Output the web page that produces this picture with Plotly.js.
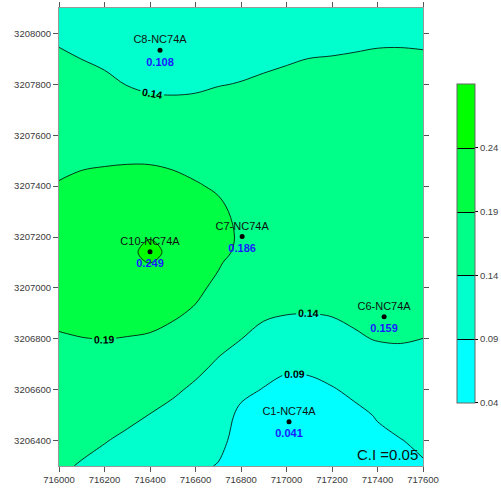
<!DOCTYPE html>
<html>
<head>
<meta charset="utf-8">
<script src="https://cdn.plot.ly/plotly-3.0.1.min.js"></script>
<style>html,body{margin:0;padding:0;background:#fff;}#chart{width:501px;height:488px;}</style>
</head>
<body>
<div id="chart"></div>
<script>
// Grid coordinates (easting / northing)
var gridX = [716000,716100,716200,716300,716400,716500,716600,716700,716800,716900,717000,717100,717200,717300,717400,717500,717600];
var gridY = [3206300,3206400,3206500,3206600,3206700,3206800,3206900,3207000,3207100,3207140,3207200,3207300,3207400,3207500,3207600,3207700,3207800,3207900,3208000,3208100];
// Concentration values (rows = gridY, cols = gridX)
var gridZ = [
[0.145,0.1375,0.1294,0.12,0.111,0.101,0.0975,0.088,0.07,0.066,0.058,0.062,0.068,0.074,0.078,0.084,0.087],
[0.1535,0.1479,0.1416,0.1336,0.1251,0.1156,0.1097,0.1005,0.075,0.065,0.048,0.055,0.064,0.075,0.083,0.0888,0.0965],
[0.162,0.1583,0.1538,0.1475,0.1392,0.1301,0.122,0.1123,0.08,0.07,0.043,0.055,0.07,0.082,0.0924,0.102,0.1074],
[0.1705,0.1686,0.166,0.1613,0.1547,0.1454,0.1342,0.1242,0.1005,0.088,0.074,0.0782,0.0874,0.0974,0.1087,0.1156,0.1183],
[0.179,0.179,0.1783,0.1751,0.1702,0.1621,0.1495,0.1361,0.1206,0.1082,0.1002,0.0998,0.1059,0.1158,0.125,0.129,0.1291],
[0.1876,0.1894,0.1905,0.1889,0.1857,0.1788,0.1674,0.1505,0.1405,0.1287,0.121,0.1197,0.1245,0.1365,0.1416,0.1425,0.1399],
[0.196,0.199,0.2009,0.2016,0.2035,0.1951,0.1853,0.1662,0.1518,0.145,0.1412,0.1396,0.1425,0.1455,0.158,0.1485,0.1465],
[0.204,0.2086,0.2114,0.2143,0.2222,0.2105,0.198,0.1818,0.1632,0.156,0.152,0.15,0.1505,0.1525,0.159,0.1535,0.1515],
[0.2127,0.2182,0.2218,0.2269,0.241,0.2258,0.2087,0.194,0.1745,0.167,0.162,0.159,0.1575,0.158,0.16,0.1565,0.155],
[0.214,0.222,0.226,0.232,0.249,0.232,0.213,0.199,0.183,0.1714,0.166,0.162,0.16,0.16,0.1605,0.1575,0.156],
[0.209,0.2161,0.2197,0.2248,0.2383,0.2244,0.2083,0.2,0.186,0.178,0.17,0.166,0.163,0.162,0.161,0.1585,0.157],
[0.2005,0.2063,0.2091,0.2127,0.2214,0.2116,0.2005,0.1965,0.182,0.1721,0.172,0.168,0.1645,0.1625,0.1608,0.159,0.1575],
[0.192,0.1965,0.1986,0.2007,0.2044,0.1989,0.1927,0.1861,0.171,0.1662,0.1685,0.1665,0.1635,0.1615,0.1598,0.1585,0.157],
[0.1829,0.186,0.1874,0.1882,0.1873,0.1848,0.18,0.1743,0.1635,0.1603,0.1635,0.1625,0.1605,0.159,0.1578,0.157,0.1558],
[0.1733,0.1744,0.1738,0.1717,0.1695,0.1674,0.1649,0.1625,0.156,0.1544,0.158,0.158,0.1565,0.1555,0.1548,0.1545,0.1535],
[0.1637,0.1627,0.1602,0.1553,0.1516,0.1499,0.1498,0.1506,0.1485,0.1485,0.1518,0.153,0.152,0.1513,0.151,0.151,0.1502],
[0.154,0.1511,0.1465,0.1391,0.1338,0.1327,0.1348,0.139,0.141,0.1426,0.1456,0.1475,0.147,0.1465,0.1465,0.147,0.1465],
[0.1444,0.1398,0.1348,0.1264,0.116,0.1157,0.12,0.130,0.1325,0.1367,0.138,0.1402,0.1408,0.1414,0.1418,0.142,0.1418],
[0.1347,0.1298,0.125,0.118,0.108,0.108,0.1125,0.121,0.124,0.1266,0.13,0.1325,0.134,0.136,0.1375,0.1375,0.1368],
[0.125,0.12,0.115,0.112,0.102,0.103,0.108,0.112,0.115,0.118,0.122,0.125,0.128,0.13,0.132,0.133,0.132]
];

// Sampling stations
var stationNames = ['C8-NC74A','C10-NC74A','C7-NC74A','C6-NC74A','C1-NC74A'];
var stationX = [716444,716400,716805,717429,717011];
var stationY = [3207934,3207142,3207202,3206887,3206474];
var stationValues = [0.108,0.249,0.186,0.159,0.041];

// Contour levels and colour bands
var levelStart = 0.09, levelEnd = 0.24, levelStep = 0.05;
var bandColors = ['#00FFFF','#00FFCC','#00FF88','#00FF44','#00FF00'];
var barTicks = [0.04,0.09,0.14,0.19,0.24];
var barMin = 0.04, barMax = 0.29;

var FONT = 'Arial, "Liberation Sans", sans-serif';

var fillScale = bandColors.map(function(c,i){ return [i/(bandColors.length-1), c]; });
var stepScale = [];
bandColors.forEach(function(c,i){
  stepScale.push([i/bandColors.length, c]);
  stepScale.push([(i+1)/bandColors.length, c]);
});

var contourTrace = {
  type: 'contour',
  x: gridX, y: gridY, z: gridZ,
  colorscale: fillScale,
  showscale: false,
  autocontour: false,
  contours: {
    start: levelStart, end: levelEnd, size: levelStep,
    coloring: 'fill', showlines: true, showlabels: true,
    labelformat: '.2f',
    labelfont: {family: FONT, size: 10.5, color: '#000', weight: 'bold'}
  },
  line: {color: '#000', width: 0.8, smoothing: 1},
  hoverinfo: 'skip'
};

// trace used only to draw the colour bar (placed outside the visible ranges)
var barTrace = {
  type: 'contour',
  x: [0, 1], y: [0, 1],
  z: [[barMin, barMax],[barMin, barMax]],
  zmin: barMin, zmax: barMax, zauto: false,
  colorscale: stepScale,
  autocontour: false,
  contours: {start: levelStart, end: levelEnd, size: levelStep, coloring: 'heatmap', showlines: true},
  line: {color: '#000', width: 1},
  hoverinfo: 'skip',
  colorbar: {
    x: 1.0934, xanchor: 'left', xpad: 0, ypad: 0,
    y: 0.486, yanchor: 'middle',
    len: 319, lenmode: 'pixels',
    thickness: 18, thicknessmode: 'pixels',
    outlinewidth: 1, outlinecolor: '#666',
    borderwidth: 0,
    tickmode: 'array', tickvals: barTicks,
    ticktext: barTicks.map(function(v){ return v.toFixed(2); }),
    ticks: 'outside', ticklen: 3, tickcolor: '#000',
    tickfont: {family: FONT, size: 9.5, color: '#444'}
  }
};

var nameTrace = {
  type: 'scatter', mode: 'markers+text',
  x: stationX, y: stationY, text: stationNames,
  textposition: 'top center',
  textfont: {family: FONT, size: 11, color: '#111'},
  marker: {size: 5, color: '#000'},
  hoverinfo: 'skip', showlegend: false, cliponaxis: false
};

var valueTrace = {
  type: 'scatter', mode: 'markers+text',
  x: stationX, y: stationY,
  text: stationValues.map(function(v){ return v.toFixed(3); }),
  textposition: 'bottom center',
  textfont: {family: FONT, size: 11, color: '#1a1aff', weight: 'bold'},
  marker: {size: 10, color: 'rgba(0,0,0,0)'},
  hoverinfo: 'skip', showlegend: false, cliponaxis: false
};

var axisCommon = {
  showgrid: false, zeroline: false, automargin: false,
  ticks: 'outside', ticklen: 5, tickcolor: '#555', tickwidth: 1,
  showline: true, linecolor: '#999', linewidth: 1, mirror: 'ticks',
  tickfont: {family: FONT, size: 9.5, color: '#3a3a3a'},
  tickformat: 'd'
};

var layout = {
  width: 501, height: 488,
  margin: {l: 59, r: 78, t: 8, b: 22, pad: 0, autoexpand: false},
  paper_bgcolor: '#fff', plot_bgcolor: '#fff',
  showlegend: false,
  xaxis: Object.assign({}, axisCommon, {range: [716000, 717600], tick0: 716000, dtick: 200}),
  yaxis: Object.assign({}, axisCommon, {range: [3206300, 3208100], tick0: 3206400, dtick: 200}),
  annotations: [{
    xref: 'paper', yref: 'paper', x: 0.9918, y: 0.026,
    xanchor: 'right', yanchor: 'middle', showarrow: false,
    text: 'C.I =0.05', font: {family: FONT, size: 15, color: '#111'}
  }]
};

Plotly.newPlot('chart', [contourTrace, barTrace, nameTrace, valueTrace], layout, {displayModeBar: false, staticPlot: true});
</script>
</body>
</html>
